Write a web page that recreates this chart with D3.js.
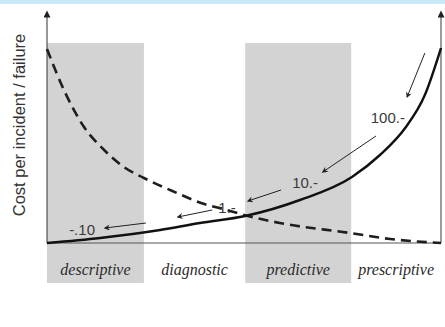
<!DOCTYPE html>
<html>
<head>
<meta charset="utf-8">
<script src="https://cdn.jsdelivr.net/npm/d3@7"></script>
<style>
  html, body { margin: 0; padding: 0; background: #fff; }
  svg { display: block; }
</style>
</head>
<body>
<svg class="main" width="445" height="327"></svg>
<script>
// phases along the x axis (0..100 units)
var phases = ["descriptive", "diagnostic", "predictive", "prescriptive"],
    phaseBounds = [0, 24.6, 50.3, 77.2, 100],
    shaded = [true, false, true, false];

// cost of the analytics investment (solid) and of incidents (dashed)
var solidX = [0, 13.5, 28.7, 38.8, 50.3, 64.2, 77.4, 84.5, 90.9, 95.9, 100],
    solidY = [0, 2.5, 6.5, 10, 13.5, 21.5, 33, 44, 57.5, 74, 97.5];
var dashX = [0, 4.3, 9.4, 14.5, 19.5, 24.6, 33, 39.1, 45.7, 51, 59.1, 76.9, 87.1, 100],
    dashY = [97, 76.5, 58, 46.5, 38, 32.5, 25, 20, 16.5, 13.5, 10, 5, 2, 0];

// cost labels and the arrows pointing down the curve
var costLabels = ["100.-", "10.-", "1.-", "-.10"],
    labelX = [86.5, 65.5, 45.7, 8.9],
    labelY = [60, 27.5, 15, 4];
var arrowFrom = [[95.9, 95], [83.5, 53.5], [59.4, 26.5], [41.9, 16.5], [25.1, 10]],
    arrowTo = [[91.4, 73], [70, 35.5], [51, 21], [33.2, 13], [14.7, 7.5]];

var svg = d3.select(".main");

var x = d3.scaleLinear().domain([0, 100]).range([47, 441]),
    y = d3.scaleLinear().domain([0, 100]).range([243, 43]);

// top band
svg.append("rect")
    .attr("x", 0).attr("y", 0)
    .attr("width", 445).attr("height", 4)
    .attr("fill", "#c9e8f8");

// shaded phase blocks
var blocks = phases.map(function(p, i) {
    return {name: p, x0: phaseBounds[i], x1: phaseBounds[i + 1], shade: shaded[i]};
});

svg.selectAll("rect.phase")
    .data(blocks.filter(function(d) { return d.shade; }))
    .enter().append("rect")
    .attr("class", "phase")
    .attr("x", function(d) { return x(d.x0); })
    .attr("y", y(100))
    .attr("width", function(d) { return x(d.x1) - x(d.x0); })
    .attr("height", 283 - y(100))
    .attr("fill", "#d3d3d4");

svg.selectAll("text.phase")
    .data(blocks)
    .enter().append("text")
    .attr("class", "phase")
    .attr("x", function(d) { return (x(d.x0) + x(d.x1)) / 2; })
    .attr("y", 275)
    .attr("text-anchor", "middle")
    .attr("font-family", "'Liberation Serif', serif")
    .attr("font-style", "italic")
    .attr("font-size", 16)
    .attr("fill", "#2a2a2a")
    .text(function(d) { return d.name; });

// markers
var defs = svg.append("defs");
defs.append("marker")
    .attr("id", "axisHead")
    .attr("viewBox", "0 0 10 10")
    .attr("refX", 8).attr("refY", 5)
    .attr("markerWidth", 9).attr("markerHeight", 7)
    .attr("markerUnits", "userSpaceOnUse")
    .attr("orient", "auto")
    .append("path")
    .attr("d", "M0,0 L10,5 L0,10 Z")
    .attr("fill", "#222");
defs.append("marker")
    .attr("id", "arrowHead")
    .attr("viewBox", "0 0 10 10")
    .attr("refX", 8).attr("refY", 5)
    .attr("markerWidth", 7).attr("markerHeight", 6)
    .attr("markerUnits", "userSpaceOnUse")
    .attr("orient", "auto")
    .append("path")
    .attr("d", "M0,0 L10,5 L0,10 L3,5 Z")
    .attr("fill", "#222");

// axes frame
svg.append("line")
    .attr("x1", x(0)).attr("y1", y(0))
    .attr("x2", x(100)).attr("y2", y(0))
    .attr("stroke", "#555").attr("stroke-width", 1);
svg.append("line")
    .attr("x1", x(0)).attr("y1", y(0))
    .attr("x2", x(0)).attr("y2", 12)
    .attr("stroke", "#333").attr("stroke-width", 1)
    .attr("marker-end", "url(#axisHead)");
svg.append("line")
    .attr("x1", x(100)).attr("y1", y(0))
    .attr("x2", x(100)).attr("y2", 12)
    .attr("stroke", "#666").attr("stroke-width", 1.3)
    .attr("marker-end", "url(#axisHead)");

// curves
var line = d3.line()
    .x(function(d) { return x(d[0]); })
    .y(function(d) { return y(d[1]); })
    .curve(d3.curveMonotoneX);

svg.append("path")
    .datum(dashX.map(function(v, i) { return [v, dashY[i]]; }))
    .attr("d", line)
    .attr("fill", "none")
    .attr("stroke", "#1e1e1e")
    .attr("stroke-width", 2.6)
    .attr("stroke-dasharray", "10,6");

svg.append("path")
    .datum(solidX.map(function(v, i) { return [v, solidY[i]]; }))
    .attr("d", line)
    .attr("fill", "none")
    .attr("stroke", "#111")
    .attr("stroke-width", 2.4);

// cost labels
svg.selectAll("text.cost")
    .data(costLabels)
    .enter().append("text")
    .attr("class", "cost")
    .attr("x", function(d, i) { return x(labelX[i]); })
    .attr("y", function(d, i) { return y(labelY[i]); })
    .attr("text-anchor", "middle")
    .attr("font-family", "'Liberation Sans', Arial, sans-serif")
    .attr("font-size", 15)
    .attr("fill", "#3a3a3a")
    .text(function(d) { return d; });

// arrows
svg.selectAll("line.arrow")
    .data(arrowFrom)
    .enter().append("line")
    .attr("class", "arrow")
    .attr("x1", function(d) { return x(d[0]); })
    .attr("y1", function(d) { return y(d[1]); })
    .attr("x2", function(d, i) { return x(arrowTo[i][0]); })
    .attr("y2", function(d, i) { return y(arrowTo[i][1]); })
    .attr("stroke", "#222")
    .attr("stroke-width", 1)
    .attr("marker-end", "url(#arrowHead)");

// y axis title
svg.append("text")
    .attr("transform", "translate(25," + 125 + ") rotate(-90)")
    .attr("text-anchor", "middle")
    .attr("font-family", "'Liberation Sans', Arial, sans-serif")
    .attr("font-size", 16.5)
    .attr("fill", "#333")
    .text("Cost per incident / failure");
</script>
</body>
</html>
